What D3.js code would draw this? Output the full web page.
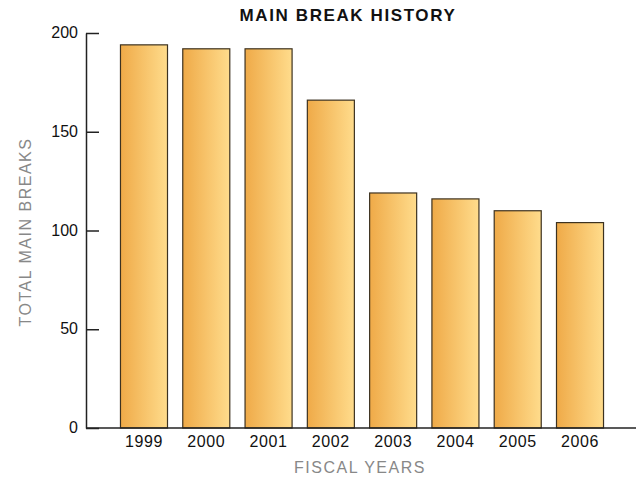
<!DOCTYPE html>
<html>
<head>
<meta charset="utf-8">
<script src="https://cdn.jsdelivr.net/npm/d3@7.9.0/dist/d3.min.js"></script>
<style>
  body { margin: 0; background: #fff; }
  svg { display: block; font-family: "Liberation Sans", Arial, sans-serif; }
</style>
</head>
<body>
<svg width="638" height="486"></svg>
<script>
// data
const years = ['1999', '2000', '2001', '2002', '2003', '2004', '2005', '2006'];
const breaks = [194, 192, 192, 166, 119, 116, 110, 104];
const yTicks = [0, 50, 100, 150, 200];

const svg = d3.select('svg');

let x = d3.scaleBand()
  .domain(years)
  .range([113, 611])
  .paddingInner(0.245)
  .paddingOuter(0.12);

let y = d3.scaleLinear().domain([0, 200]).range([428, 33]);

// gradient for bars
let grad = svg.append('defs').append('linearGradient')
  .attr('id', 'barGrad')
  .attr('x1', '0%').attr('x2', '100%').attr('y1', '0%').attr('y2', '0%');
grad.append('stop').attr('offset', '0%').attr('stop-color', '#efaa48');
grad.append('stop').attr('offset', '100%').attr('stop-color', '#ffdc8c');

// bars
svg.selectAll('rect.bar')
  .data(years)
  .join('rect')
  .attr('class', 'bar')
  .attr('x', (d) => x(d))
  .attr('y', (d, i) => y(breaks[i]))
  .attr('width', x.bandwidth())
  .attr('height', (d, i) => y(0) - y(breaks[i]))
  .attr('fill', 'url(#barGrad)')
  .attr('stroke', '#3d3220')
  .attr('stroke-width', 1.2);

// x axis line
svg.append('line')
  .attr('x1', 86).attr('x2', 636)
  .attr('y1', y(0)).attr('y2', y(0))
  .attr('stroke', '#222').attr('stroke-width', 1.5);

// y axis: ticks pointing inward
let yAxis = svg.append('g')
  .attr('transform', 'translate(86,0)')
  .call(d3.axisRight(y).tickValues(yTicks).tickSize(13).tickSizeOuter(0).tickFormat(''));
yAxis.select('.domain').attr('stroke', '#222').attr('stroke-width', 1.5);
yAxis.selectAll('.tick line').attr('stroke', '#222').attr('stroke-width', 1.5);

// y tick labels
svg.selectAll('text.ylab')
  .data(yTicks)
  .join('text')
  .attr('class', 'ylab')
  .attr('x', 78)
  .attr('y', (d) => y(d) + 5)
  .attr('text-anchor', 'end')
  .attr('font-size', 16)
  .attr('fill', '#111')
  .text((d) => d);

// x tick labels
svg.selectAll('text.xlab')
  .data(years)
  .join('text')
  .attr('class', 'xlab')
  .attr('x', (d) => x(d) + x.bandwidth() / 2)
  .attr('y', 447)
  .attr('text-anchor', 'middle')
  .attr('font-size', 16)
  .attr('letter-spacing', 0.6)
  .attr('fill', '#111')
  .text((d) => d);

// title
svg.append('text')
  .attr('x', 348)
  .attr('y', 21)
  .attr('text-anchor', 'middle')
  .attr('font-size', 17)
  .attr('font-weight', 'bold')
  .attr('letter-spacing', 1.6)
  .attr('fill', '#111')
  .text('MAIN BREAK HISTORY');

// axis titles
svg.append('text')
  .attr('x', 360)
  .attr('y', 473)
  .attr('text-anchor', 'middle')
  .attr('font-size', 16)
  .attr('letter-spacing', 1.5)
  .attr('fill', '#888')
  .text('FISCAL YEARS');

svg.append('text')
  .attr('transform', 'translate(31,232) rotate(-90)')
  .attr('text-anchor', 'middle')
  .attr('font-size', 16)
  .attr('letter-spacing', 1.5)
  .attr('fill', '#888')
  .text('TOTAL MAIN BREAKS');
</script>
</body>
</html>
